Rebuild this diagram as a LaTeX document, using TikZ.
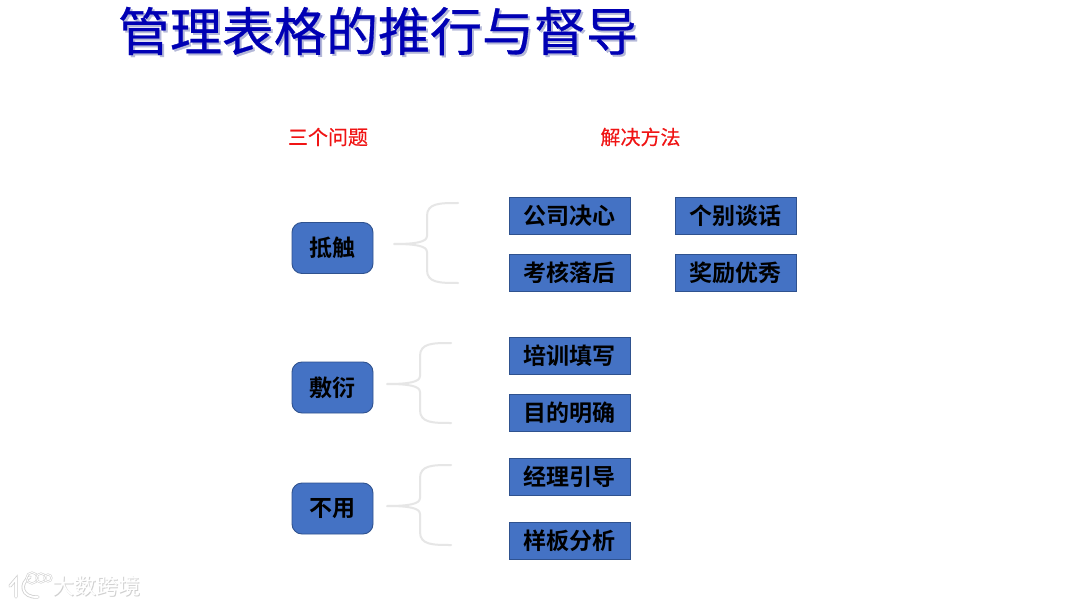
\documentclass[tikz,border=0pt]{standalone}
\usepackage{fontspec}
\setmainfont{Noto Sans CJK SC}[BoldFont={Noto Sans CJK SC Bold}]
\newfontfamily\heavyfont{Noto Sans CJK SC}[FakeBold=0.6]
\newfontfamily\midfont{Noto Sans CJK SC}[FakeBold=0.35]
\usetikzlibrary{calc}
\definecolor{boxfill}{HTML}{4472C4}
\definecolor{boxline}{HTML}{2F528F}
\definecolor{bracecol}{HTML}{E6E6E6}
\definecolor{titleblue}{HTML}{0000B4}
\definecolor{titleshadow}{HTML}{B4B8D8}
\definecolor{redtext}{HTML}{F01414}
\definecolor{wm}{HTML}{D0D0D0}
\newcommand{\dn}[1]{\raisebox{-1pt}{#1}}
\tikzset{
  x=1pt,y=-1pt,
  solbox/.style={draw=boxline,line width=0.9pt,fill=boxfill,minimum width=121pt,minimum height=37.5pt,inner sep=0pt,font=\fontsize{23}{25}\selectfont\bfseries,text=black},
  probbox/.style={draw=boxline,line width=0.9pt,fill=boxfill,rounded corners=10pt,minimum width=81pt,minimum height=51pt,inner sep=0pt,font=\fontsize{23}{25}\selectfont\bfseries,text=black},
  headtext/.style={inner sep=0pt,text=redtext,font=\midfont\fontsize{20}{22}\selectfont},
  brace/.style={draw=bracecol,line width=2pt,line cap=round,line join=round},
  titletext/.style={inner sep=0pt,font=\heavyfont\fontsize{52}{56}\selectfont},
  wmtext/.style={inner sep=0pt,font=\fontsize{22}{24}\selectfont}
}
\newcommand{\bracepath}[3]{%
  \draw[brace] (#2) .. controls ($(#2)+(-18,0)$) and ($(#2)+(-31,0)$) ..
    ($(#2)+(-31,13)$) -- ($(#1)+(33,-8)$) .. controls ($(#1)+(33,-2)$) and ($(#1)+(22,0)$) ..
    (#1) .. controls ($(#1)+(22,0)$) and ($(#1)+(33,2)$) ..
    ($(#1)+(33,8)$) -- ($(#3)+(-31,-13)$) .. controls ($(#3)+(-31,0)$) and ($(#3)+(-18,0)$) .. (#3);}
\begin{document}
\begin{tikzpicture}
\useasboundingbox (0,0) rectangle (1080,607);
\fill[white] (0,0) rectangle (1080,607);
% title
\node[titletext,text=titleshadow] (titleshadow) at (380,33) {管理表格的推行与督导};
\node[titletext,text=titleblue] (title) at (378,31) {管理表格的推行与督导};
% headers
\node[headtext] (h1) at (328,137) {三个问题};
\node[headtext] (h2) at (640.5,137) {解决方法};
% problems
\node[probbox] (p1) at (332.5,248) {\dn{抵触}};
\node[probbox] (p2) at (332.5,387.5) {\dn{敷衍}};
\node[probbox] (p3) at (332.5,508.5) {\dn{不用}};
% solutions
\node[solbox] (s1) at (569.8,215.8) {\dn{公司决心}};
\node[solbox] (s2) at (569.8,272.8) {\dn{考核落后}};
\node[solbox] (s3) at (735.8,215.8) {\dn{个别谈话}};
\node[solbox] (s4) at (735.8,272.8) {\dn{奖励优秀}};
\node[solbox] (s5) at (569.8,355.8) {\dn{培训填写}};
\node[solbox] (s6) at (569.8,412.8) {\dn{目的明确}};
\node[solbox] (s7) at (569.8,476.8) {\dn{经理引导}};
\node[solbox] (s8) at (569.8,540.8) {\dn{样板分析}};
% braces
\coordinate (b1t) at (394,244); \coordinate (b1a) at (458,203); \coordinate (b1b) at (458,283);
\coordinate (b2t) at (387,384); \coordinate (b2a) at (451,343); \coordinate (b2b) at (451,423);
\coordinate (b3t) at (387,506); \coordinate (b3a) at (451,465); \coordinate (b3b) at (451,545);
\bracepath{b1t}{b1a}{b1b}
\bracepath{b2t}{b2a}{b2b}
\bracepath{b3t}{b3a}{b3b}
% watermark
\node[wmtext,text=wm] (wm0) at (97.5,587.5) {大数跨境};
\node[wmtext,text=white] (wm1) at (96.5,586.5) {大数跨境};
\draw[wm,line width=3.4pt,line cap=round] (10,586) -- (16,579) -- (16,597);
\draw[white,line width=1.8pt,line cap=round] (10,586) -- (16,579) -- (16,597);
\draw[wm,line width=3.4pt,line cap=round] (30,577) .. controls (19,583) and (21,598) .. (38,597);
\draw[white,line width=1.8pt,line cap=round] (30,577) .. controls (19,583) and (21,598) .. (38,597);
\foreach \cx/\cy/\r in {32/578/5.5,41/578/4.5,48/578/3.5}{
  \draw[wm,line width=2pt] (\cx,\cy) circle (\r);
  \draw[white,line width=0.9pt] (\cx,\cy) circle (\r);
}
\end{tikzpicture}
\end{document}
